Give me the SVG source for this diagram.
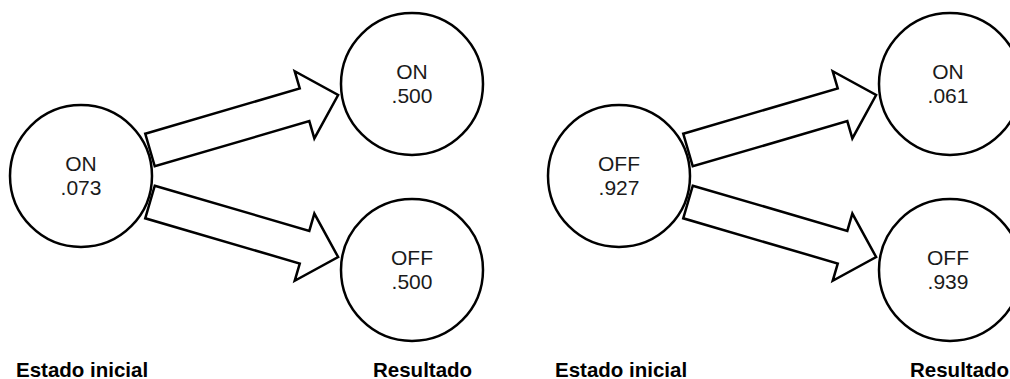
<svg xmlns="http://www.w3.org/2000/svg" width="1010" height="379" viewBox="0 0 1010 379">
<defs>
<style>
.node{fill:#fff;stroke:#000;stroke-width:2.5}
.arr{fill:#fff;stroke:#000;stroke-width:2.5;stroke-linejoin:miter}
.t{font-family:"Liberation Sans",Arial,sans-serif;font-size:21px;fill:#1a1a1a;text-anchor:middle}
.lbl{font-family:"Liberation Sans",Arial,sans-serif;font-size:20.5px;font-weight:bold;fill:#000}
</style>
<path id="blk" d="M0,-17 L161,-17 L161,-35 L196,0 L161,35 L161,17 L0,17 Z"/>
</defs>
<g id="connectors">
<use href="#blk" class="arr" transform="translate(150,150) rotate(-16.3)"/>
<use href="#blk" class="arr" transform="translate(150,202) rotate(16.3)"/>
<use href="#blk" class="arr" transform="translate(688,150) rotate(-16.3)"/>
<use href="#blk" class="arr" transform="translate(688,202) rotate(16.3)"/>
</g>
<g id="n_init1"><circle class="node" cx="81" cy="176" r="71"/><text class="t" x="81" y="171">ON</text><text class="t" x="81" y="195">.073</text></g>
<g id="n_on1"><circle class="node" cx="412" cy="84" r="71"/><text class="t" x="412" y="79">ON</text><text class="t" x="412" y="103">.500</text></g>
<g id="n_off1"><circle class="node" cx="412" cy="270" r="71"/><text class="t" x="412" y="265">OFF</text><text class="t" x="412" y="289">.500</text></g>
<g id="n_init2"><circle class="node" cx="619" cy="176" r="71"/><text class="t" x="619" y="171">OFF</text><text class="t" x="619" y="195">.927</text></g>
<g id="n_on2"><circle class="node" cx="950" cy="84" r="71"/><text class="t" x="948" y="79">ON</text><text class="t" x="948" y="103">.061</text></g>
<g id="n_off2"><circle class="node" cx="950" cy="270" r="71"/><text class="t" x="948" y="265">OFF</text><text class="t" x="948" y="289">.939</text></g>
<g id="labels">
<text class="lbl" x="16" y="377">Estado inicial</text>
<text class="lbl" x="373" y="377">Resultado</text>
<text class="lbl" x="555" y="377">Estado inicial</text>
<text class="lbl" x="910" y="377">Resultado</text>
</g>
</svg>
